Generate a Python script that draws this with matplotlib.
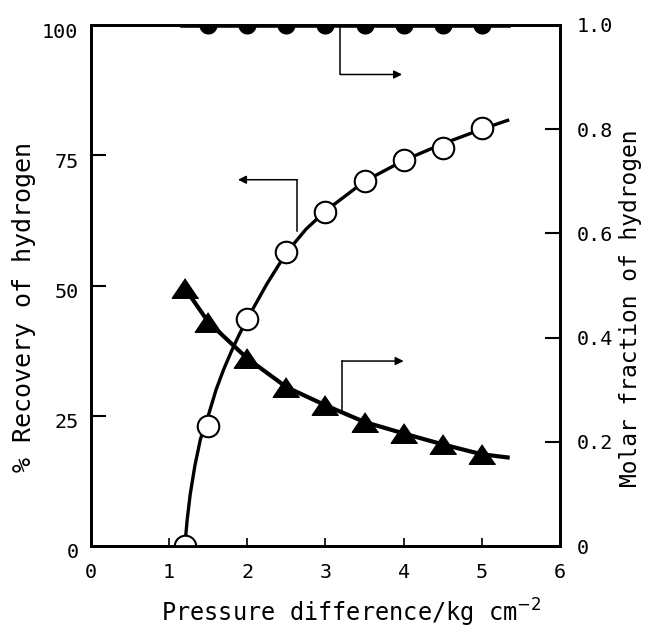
import matplotlib
matplotlib.use("Agg")
import matplotlib.pyplot as plt
import matplotlib.transforms as mtransforms
import numpy as np
from matplotlib.path import Path

# ---- data ----
recovery_x = [1.2, 1.5, 2.0, 2.5, 3.0, 3.5, 4.0, 4.5, 5.0]
recovery = [0.0, 23.0, 43.5, 56.5, 64.2, 70.0, 74.0, 76.4, 80.2]
# smooth line drawn through the recovery points
recovery_curve_x = [1.2, 1.23, 1.27, 1.33, 1.40, 1.50, 1.60, 1.70, 1.80, 1.90, 2.00,
                    2.25, 2.50, 2.75, 3.00, 3.50, 4.00, 4.50, 5.00, 5.35]
recovery_curve = [0.0, 5.0, 10.0, 15.5, 20.5, 25.0, 30.0, 34.0, 37.5, 40.7, 43.6,
                  50.3, 56.3, 60.8, 64.3, 70.0, 74.0, 77.2, 80.0, 81.8]

fraction_x = [1.2, 1.5, 2.0, 2.5, 3.0, 3.5, 4.0, 4.5, 5.0]
fraction = [0.495, 0.43, 0.36, 0.305, 0.27, 0.238, 0.216, 0.195, 0.176]
fraction_curve_x = [1.2, 1.5, 2.0, 2.5, 3.0, 3.5, 4.0, 4.5, 5.0, 5.33]
fraction_curve = [0.495, 0.43, 0.36, 0.305, 0.27, 0.238, 0.216, 0.195, 0.176, 0.17]

purity_x = [1.5, 2.0, 2.5, 3.0, 3.5, 4.0, 4.5, 5.0]
purity = [1.0, 1.0, 1.0, 1.0, 1.0, 1.0, 1.0, 1.0]
purity_line_x = [1.18, 5.33]
purity_line = [1.0, 1.0]

x_ticks = [0, 1, 2, 3, 4, 5, 6]
left_ticks = [0, 25, 50, 75, 100]
right_ticks = [0, 0.2, 0.4, 0.6, 0.8, 1.0]
right_labels = ["0", "0.2", "0.4", "0.6", "0.8", "1.0"]

FONT = "DejaVu Sans Mono"
plt.rcParams["font.family"] = FONT

fig = plt.figure(figsize=(6.46, 6.29), dpi=100)
ax = fig.add_axes([91 / 646, 1 - 546 / 629, 469 / 646, 521 / 629])
ax2 = ax.twinx()

for a in (ax, ax2):
    for s in a.spines.values():
        s.set_linewidth(2.0)
        s.set_color("black")

ax.set_xlim(0, 6)
ax.set_ylim(0, 100)
ax2.set_ylim(0, 1.0)

# recovery (left axis)
ax.plot(recovery_curve_x, recovery_curve, color="black", lw=2.4, zorder=3,
        solid_capstyle="butt")
ax.plot(recovery_x, recovery, linestyle="none", marker="o", markersize=15.5,
        markerfacecolor="white", markeredgecolor="black", markeredgewidth=1.5,
        zorder=4)

# molar fraction (right axis)
tri = [(0, 1), (-1.35, -1), (1.35, -1)]
ax2.plot(fraction_curve_x, fraction_curve, color="black", lw=3.0, zorder=3)
ax2.plot(fraction_x, fraction, linestyle="none", marker=tri, markersize=19,
         color="black", zorder=4)

# lower half-circle marker for the points lying on the top frame
t = np.linspace(np.pi, 2 * np.pi, 40)
half = Path(np.column_stack([np.cos(t), np.sin(t)]))
ax2.plot(purity_line_x, purity_line, color="black", lw=4, zorder=3)
ax2.plot(purity_x, purity, linestyle="none", marker=half, markersize=12,
         color="black", zorder=4)

# annotation arrows
arrow_kw = dict(arrowstyle="-|>", color="black", lw=1.1, mutation_scale=12,
                shrinkA=0, shrinkB=0)
ax.plot([3.19, 3.19], [100, 90.5], color="black", lw=1.1)
ax.annotate("", xy=(3.98, 90.5), xytext=(3.19, 90.5), arrowprops=arrow_kw)
ax.plot([2.64, 2.64], [70.3, 60.5], color="black", lw=1.1)
ax.annotate("", xy=(1.88, 70.3), xytext=(2.64, 70.3), arrowprops=arrow_kw)
ax.plot([3.21, 3.21], [25.8, 35.5], color="black", lw=1.1)
ax.annotate("", xy=(4.0, 35.5), xytext=(3.21, 35.5), arrowprops=arrow_kw)

# ticks
ax.set_xticks(x_ticks)
ax.set_xticklabels([str(v) for v in x_ticks])
ax.set_yticks(left_ticks)
ax.set_yticklabels([str(v) for v in left_ticks])
ax2.set_yticks(right_ticks)
ax2.set_yticklabels(right_labels)

ax.tick_params(axis="x", direction="in", length=6, width=1.2, pad=12, labelsize=14.5)
ax.tick_params(axis="y", direction="in", length=11, width=1.5, pad=9, labelsize=14.5)
ax2.tick_params(axis="y", direction="in", length=11, width=1.5, pad=12, labelsize=14.5)

# left tick labels sit slightly below their ticks in the reference
shift = mtransforms.ScaledTranslation(0, -5 / 100, fig.dpi_scale_trans)
for lbl in ax.get_yticklabels():
    lbl.set_transform(lbl.get_transform() + shift)

# hide ticks at corners
for tk in ax.xaxis.get_major_ticks():
    if tk.get_loc() in (0, 6):
        tk.tick1line.set_visible(False)
for tk in ax.yaxis.get_major_ticks():
    if tk.get_loc() in (0, 100):
        tk.tick1line.set_visible(False)
for tk in ax2.yaxis.get_major_ticks():
    if tk.get_loc() in (0, 1.0):
        tk.tick2line.set_visible(False)

fig.text(351 / 646, 1 - 613 / 629, r"Pressure difference/kg cm$^{-2}$",
         ha="center", va="center", fontsize=17, family=FONT)
fig.text(24 / 646, 1 - 307 / 629, "% Recovery of hydrogen", rotation=90,
         ha="center", va="center", fontsize=18, family=FONT)
fig.text(631 / 646, 1 - 308 / 629, "Molar fraction of hydrogen", rotation=90,
         ha="center", va="center", fontsize=16.5, family=FONT)

fig.savefig("out.png", dpi=100)
